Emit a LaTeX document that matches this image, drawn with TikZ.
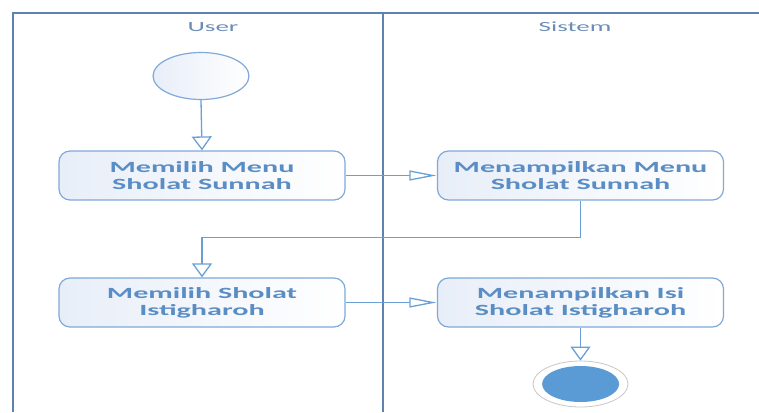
\documentclass[tikz,border=0pt]{standalone}
\usepackage{fontspec}
\setmainfont{Carlito}
\usetikzlibrary{arrows.meta,shapes.geometric}
\definecolor{frameblue}{HTML}{5D83AE}
\definecolor{lineblue}{HTML}{6A9FD6}
\definecolor{boxline}{HTML}{7EA9D8}
\definecolor{textblue}{HTML}{5A8DC4}
\definecolor{titleblue}{HTML}{6A8DB6}
\definecolor{boxfill}{HTML}{E8EEF8}
\definecolor{endfill}{HTML}{5B9BD5}
\tikzset{
  frameline/.style={draw=frameblue, line width=1.6pt},
  lanetitle/.style={text=titleblue, font=\fontsize{14}{16}\selectfont, inner sep=0pt},
  actbox/.style={draw=boxline, line width=1.2pt, rounded corners=11pt, left color=boxfill, right color=white,
    minimum width=148.2pt, minimum height=49pt, inner sep=0pt, align=center,
    text=textblue, font=\fontsize{15.6}{17}\selectfont\bfseries},
  startnode/.style={ellipse, draw=boxline, line width=1.2pt, left color=boxfill, right color=white,
    minimum width=49.7pt, minimum height=47pt, inner sep=0pt},
  endring/.style={ellipse, draw=black!22, line width=0.8pt, fill=white, minimum width=49.2pt, minimum height=46pt, inner sep=0pt},
  endcore/.style={ellipse, fill=endfill, minimum width=39.9pt, minimum height=36pt, inner sep=0pt},
  flowv/.style={draw=lineblue, line width=1.3pt, -{Triangle[open, length=14pt, width=20pt, line width=1.3pt]}},
  flowh/.style={draw=lineblue, line width=1.3pt, -{Triangle[open, length=27pt, width=10pt, line width=1.3pt]}},
}
\begin{document}
\begin{tikzpicture}[x=1pt,y=-1pt]
\useasboundingbox (0,0) rectangle (759,412);
% swimlane frame
\draw[frameline] (13,412) -- (13,13) -- (759,13);
\draw[frameline] (383,13) -- (383,412);
\begin{scope}[xscale=1.93, transform shape]
  \node[lanetitle] (tuser) at ({213/1.93},27) {User};
  \node[lanetitle] (tsys) at ({575/1.93},27) {Sistem};
  \node[startnode] (start) at ({201/1.93},76) {};
  \node[actbox] (b1) at ({202/1.93},175.5) {Memilih Menu\\Sholat Sunnah};
  \node[actbox] (b2) at ({202/1.93},302.5) {Memilih Sholat\\Istigharoh};
  \node[actbox] (b3) at ({580.5/1.93},175.5) {Menampilkan Menu\\Sholat Sunnah};
  \node[actbox] (b4) at ({580.5/1.93},302.5) {Menampilkan Isi\\Sholat Istigharoh};
  \node[endring] (end) at ({580.5/1.93},384) {};
  \node[endcore] (endc) at (end.center) {};
\end{scope}
\draw[flowv] (start.south) -- (b1.north);
\draw[flowh] (b1.east) -- (b3.west);
\draw[flowv] (b3.south) -- ++(0,37) -| (b2.north);
\draw[flowh] (b2.east) -- (b4.west);
\draw[flowv] (b4.south) -- (end.north);
\end{tikzpicture}
\end{document}
